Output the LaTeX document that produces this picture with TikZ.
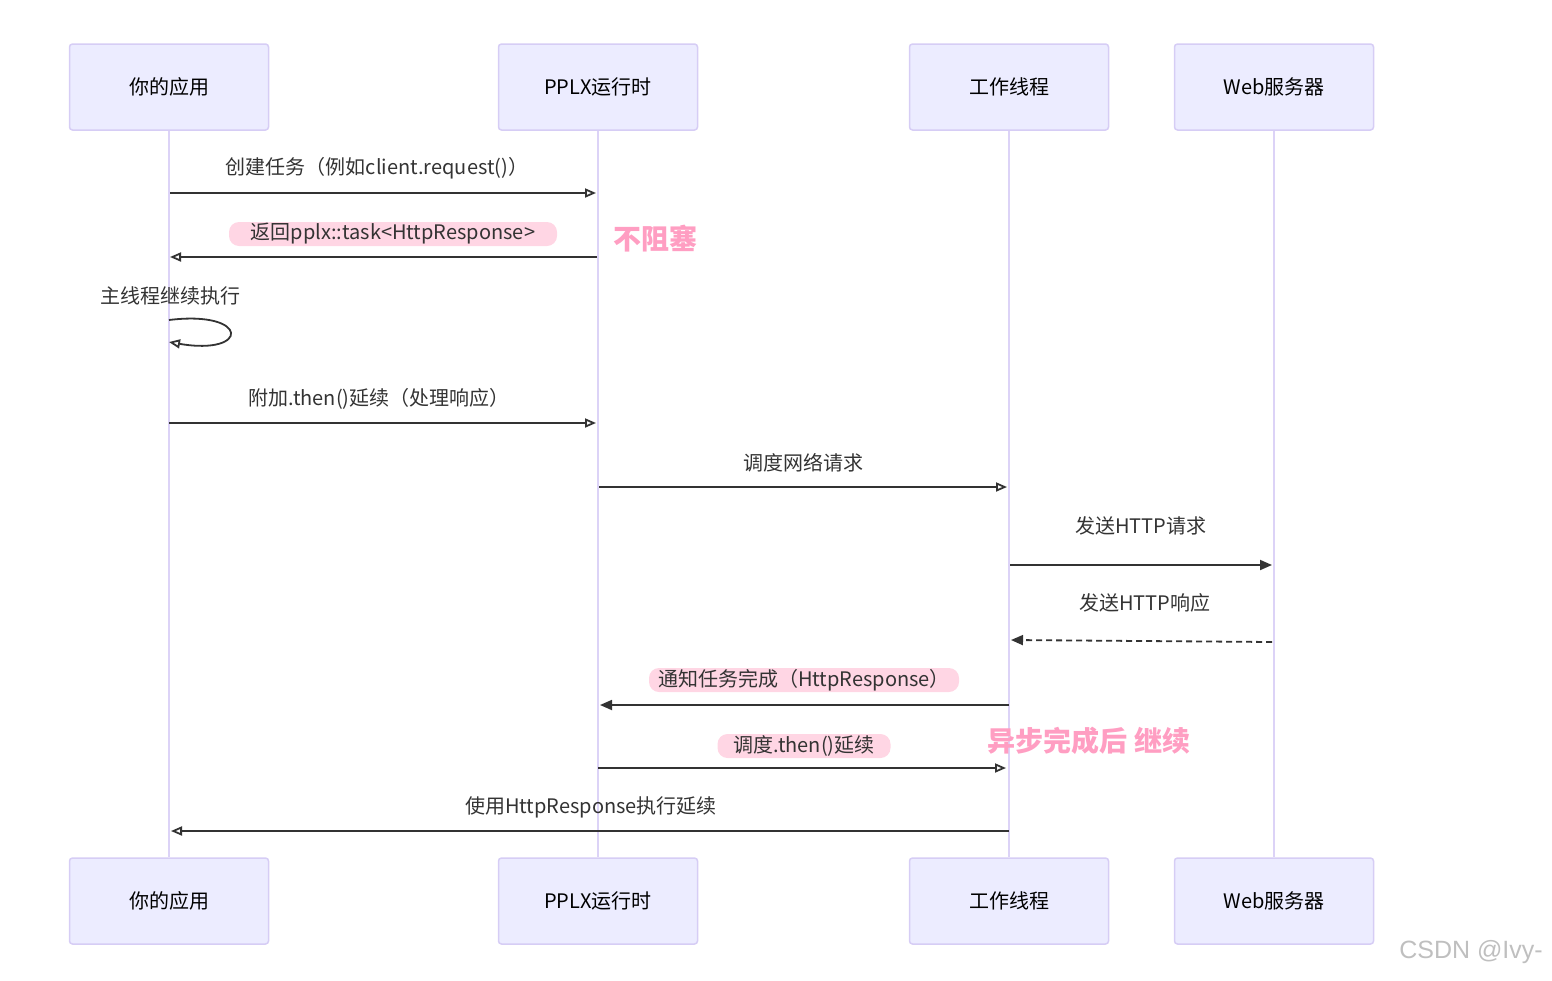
\documentclass[tikz,border=0pt]{standalone}
\usepackage{fontspec}
\setmainfont{Noto Sans CJK SC}
\newfontfamily\wmfont{Liberation Sans}
\usetikzlibrary{arrows.meta,patterns}
\definecolor{actfill}{HTML}{ECECFF}
\definecolor{actline}{HTML}{D6CDF5}
\definecolor{lifeline}{HTML}{DCD3F7}
\definecolor{ink}{HTML}{333333}
\definecolor{pinkbg}{HTML}{FFD6E4}
\definecolor{pinkfg}{HTML}{FF9EC2}
\tikzset{
  actor/.style={draw=actline, line width=1.5pt, fill=actfill, rounded corners=3pt,
    minimum width=199pt, minimum height=86pt, inner sep=0pt,
    font=\fontsize{20}{24}\selectfont, text=black},
  life/.style={draw=lifeline, line width=2pt},
  msg/.style={draw=ink, line width=1.8pt, -{Triangle[open,length=11pt,width=9pt]}},
  msgf/.style={draw=ink, line width=1.8pt, -{Triangle[length=12pt,width=10pt]}},
  lbl/.style={font=\fontsize{20}{24}\selectfont, text=ink, inner sep=0pt},
  plbl/.style={font=\fontsize{20}{24}\selectfont, text=ink, fill=pinkbg, rounded corners=10pt, inner sep=0pt, minimum height=24pt},
  note/.style={font=\fontsize{28}{32}\selectfont\bfseries, text=pinkfg, inner sep=0pt},
}
\begin{document}
\begin{tikzpicture}[x=1pt,y=-1pt]
\useasboundingbox (0,0) rectangle (1552,980);
% actors top
\node[actor] (a1) at (169,87) {你的应用};
\node[actor] (a2) at (598,87) {PPLX运行时};
\node[actor] (a3) at (1009,87) {工作线程};
\node[actor] (a4) at (1274,87) {Web服务器};
% actors bottom
\node[actor] (b1) at (169,901) {你的应用};
\node[actor] (b2) at (598,901) {PPLX运行时};
\node[actor] (b3) at (1009,901) {工作线程};
\node[actor] (b4) at (1274,901) {Web服务器};
% lifelines
\draw[life] (a1.south) -- (b1.north);
\draw[life] (a2.south) -- (b2.north);
\draw[life] (a3.south) -- (b3.north);
\draw[life] (a4.south) -- (b4.north);
% message endpoints
\coordinate (m1a) at (170,193); \coordinate (m1b) at (596,193);
\coordinate (m2a) at (597,257); \coordinate (m2b) at (170,257);
\coordinate (m3a) at (169,320); \coordinate (m3b) at (169,342);
\coordinate (m4a) at (169,423); \coordinate (m4b) at (596,423);
\coordinate (m5a) at (599,487); \coordinate (m5b) at (1007,487);
\coordinate (m6a) at (1010,565); \coordinate (m6b) at (1272,565);
\coordinate (m7a) at (1272,642); \coordinate (m7b) at (1011,640);
\coordinate (m8a) at (1009,705); \coordinate (m8b) at (600,705);
\coordinate (m9a) at (598,768); \coordinate (m9b) at (1006,768);
\coordinate (m10a) at (1009,831); \coordinate (m10b) at (171,831);
% messages
\draw[msg] (m1a) -- (m1b);
\node[lbl] (l1) at (377,168) {创建任务（例如client.request()）};
\draw[msg] (m2a) -- (m2b);
\node[plbl, minimum width=328pt] (l2) at (393,234) {返回pplx::task<HttpResponse>};
\node[note] (n1) at (655,239) {不阻塞};
\node[lbl] (l3) at (170,296) {主线程继续执行};
\draw[msg] (m3a) .. controls (250,310) and (250,356) .. (m3b);
\draw[msg] (m4a) -- (m4b);
\node[lbl] (l4) at (379,399) {附加.then()延续（处理响应）};
\draw[msg] (m5a) -- (m5b);
\node[lbl] (l5) at (803,463) {调度网络请求};
\draw[msgf] (m6a) -- (m6b);
\node[lbl] (l6) at (1141,526) {发送HTTP请求};
\draw[msgf, dash pattern=on 6pt off 4pt] (m7a) -- (m7b);
\node[lbl] (l7) at (1145,603) {发送HTTP响应};
\draw[msgf] (m8a) -- (m8b);
\node[plbl, minimum width=310pt] (l8) at (804,680) {通知任务完成（HttpResponse）};
\draw[msg] (m9a) -- (m9b);
\node[plbl, minimum width=173pt] (l9) at (804,746) {调度.then()延续};
\node[note] (n2) at (1089,741) {异步完成后 继续};
\draw[msg] (m10a) -- (m10b);
\node[lbl] (l10) at (591,807) {使用HttpResponse执行延续};
% watermark
\node[font=\wmfont\fontsize{25}{28}\selectfont, text=black!25, inner sep=0pt] (wm) at (1471,952) {CSDN @Ivy-};
\end{tikzpicture}
\end{document}
